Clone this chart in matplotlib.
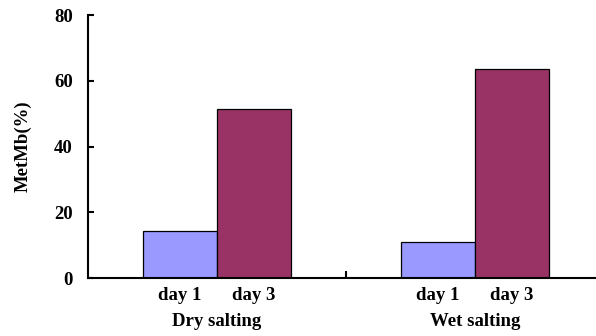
import numpy as np
import matplotlib
matplotlib.use("Agg")
import matplotlib.pyplot as plt
import matplotlib.transforms as mtransforms

groups = ["Dry salting", "Wet salting"]
days = ["day 1", "day 3"]
day1_values = [14.3, 11.0]
day3_values = [51.4, 63.5]
colors = ["#9999FF", "#993366"]

plt.rcParams["font.family"] = ["Liberation Serif", "DejaVu Serif"]
plt.rcParams["font.weight"] = "bold"
fs = 13.5

fig = plt.figure(figsize=(5.96, 3.36), dpi=100)
ax = fig.add_axes([0.1477, 0.1726, 0.866, 0.7827])

x = np.arange(len(groups))
width = 0.287
ax.bar(x - width / 2, day1_values, width, color=colors[0], edgecolor="black", linewidth=0.9)
ax.bar(x + width / 2, day3_values, width, color=colors[1], edgecolor="black", linewidth=0.9)

ax.set_xlim(-0.5, 1.5)
ax.set_ylim(0, 80)
ax.set_yticks([0, 20, 40, 60, 80])
ax.set_xticks([0.5])
ax.set_xticklabels([""])
ax.tick_params(axis="y", direction="in", length=4, width=1.5, labelsize=fs, pad=11)
ax.tick_params(axis="x", direction="in", length=5, width=1.5)
for lbl in ax.get_yticklabels():
    lbl.set_fontweight("bold")

ax.spines["top"].set_visible(False)
ax.spines["right"].set_visible(False)
ax.spines["left"].set_linewidth(1.5)
ax.spines["bottom"].set_linewidth(1.5)

ax.set_ylabel("MetMb(%)", fontsize=fs, fontweight="bold", labelpad=16)

trans = mtransforms.blended_transform_factory(ax.transData, fig.transFigure)
for i, g in enumerate(groups):
    ax.text(x[i] - width / 2, 1 - 295 / 336, days[0], transform=trans, ha="center", va="center",
            fontsize=fs, fontweight="bold")
    ax.text(x[i] + width / 2, 1 - 295 / 336, days[1], transform=trans, ha="center", va="center",
            fontsize=fs, fontweight="bold")
    ax.text(x[i], 1 - 322 / 336, g, transform=trans, ha="center", va="center",
            fontsize=fs, fontweight="bold")

fig.savefig("out.png", dpi=100)
